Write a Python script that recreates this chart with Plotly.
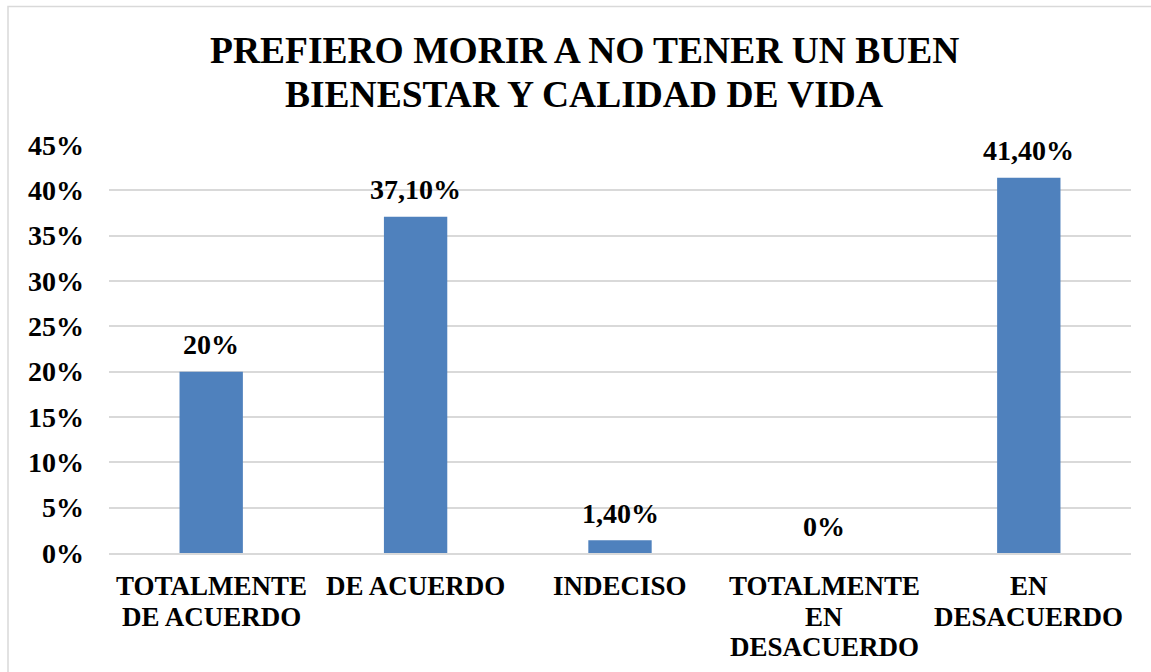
import plotly.graph_objects as go

categories = [
    "TOTALMENTE<br>DE ACUERDO",
    "DE ACUERDO",
    "INDECISO",
    "TOTALMENTE<br>EN<br>DESACUERDO",
    "EN<br>DESACUERDO",
]
percentages = [20.0, 37.1, 1.4, 0.0, 41.4]
y_ticks = [0, 5, 10, 15, 20, 25, 30, 35, 40, 45]
y_tick_labels = [f"{t}%" for t in y_ticks]
title_lines = ["PREFIERO MORIR A NO TENER UN BUEN", "BIENESTAR Y CALIDAD DE VIDA"]


def fmt_pct(v):
    if float(v).is_integer():
        return f"{int(v)}%"
    return f"{v:.2f}".replace(".", ",") + "%"


labels = [fmt_pct(v) for v in percentages]

FONT = "Liberation Serif, Times New Roman, serif"

fig = go.Figure(
    go.Bar(
        x=categories,
        y=percentages,
        marker=dict(color="#4F81BD", line=dict(width=0)),
        cliponaxis=False,
        hoverinfo="y",
    )
)

W, H = 1151, 672
ml, mr, mt, mb = 109, 20, 145, 119
pw, ph = W - ml - mr, H - mt - mb

# outer frame of the chart area (right and bottom edges run past the page)
fig.add_shape(
    type="rect", xref="paper", yref="paper",
    x0=(8 - ml) / pw, x1=(W + 5 - ml) / pw,
    y0=-(H + 5 - (H - mb)) / ph, y1=1 + (mt - 6.5) / ph,
    line=dict(color="#d9d9d9", width=1.5), fillcolor="rgba(0,0,0,0)",
    layer="below",
)

# value labels above each bar
for cat, val, lab in zip(categories, percentages, labels):
    fig.add_annotation(
        x=cat, y=val, xref="x", yref="y",
        text=f"<b>{lab}</b>", showarrow=False,
        font=dict(family=FONT, size=28, color="black"),
        yanchor="middle", yshift=27,
    )

# category labels under the axis, one annotation per line for tight leading
for cat in categories:
    for i, part in enumerate(cat.split("<br>")):
        fig.add_annotation(
            x=cat, y=0, xref="x", yref="y",
            text=f"<b>{part}</b>", showarrow=False,
            font=dict(family=FONT, size=27, color="black"),
            xanchor="center", yanchor="middle",
            yshift=-(33 + 30.5 * i),
        )

# two-line chart title
for i, line in enumerate(title_lines):
    fig.add_annotation(
        x=(584 - ml) / pw, xref="paper",
        y=1 + (mt - (51 + 43 * i)) / ph, yref="paper",
        text=f"<b>{line}</b>", showarrow=False,
        font=dict(family=FONT, size=37.5, color="black"),
        xanchor="center", yanchor="middle",
    )

fig.update_layout(
    width=W, height=H,
    margin=dict(l=ml, r=mr, t=mt, b=mb, autoexpand=False),
    paper_bgcolor="white", plot_bgcolor="white",
    bargap=0.69,
    showlegend=False,
    font=dict(family=FONT, color="black"),
)

fig.update_yaxes(
    range=[0, 45],
    tickvals=y_ticks,
    ticktext=[f"<b>{t}</b>" for t in y_tick_labels],
    tickfont=dict(family=FONT, size=28, color="black"),
    showgrid=True, gridcolor="#d9d9d9", gridwidth=1.5,
    zeroline=False, showline=False,
    ticklabelstandoff=24,
    automargin=False,
)
fig.update_xaxes(
    showticklabels=False,
    showline=True, linecolor="#d9d9d9", linewidth=1.5,
    automargin=False,
)

fig.write_html("out.html")
